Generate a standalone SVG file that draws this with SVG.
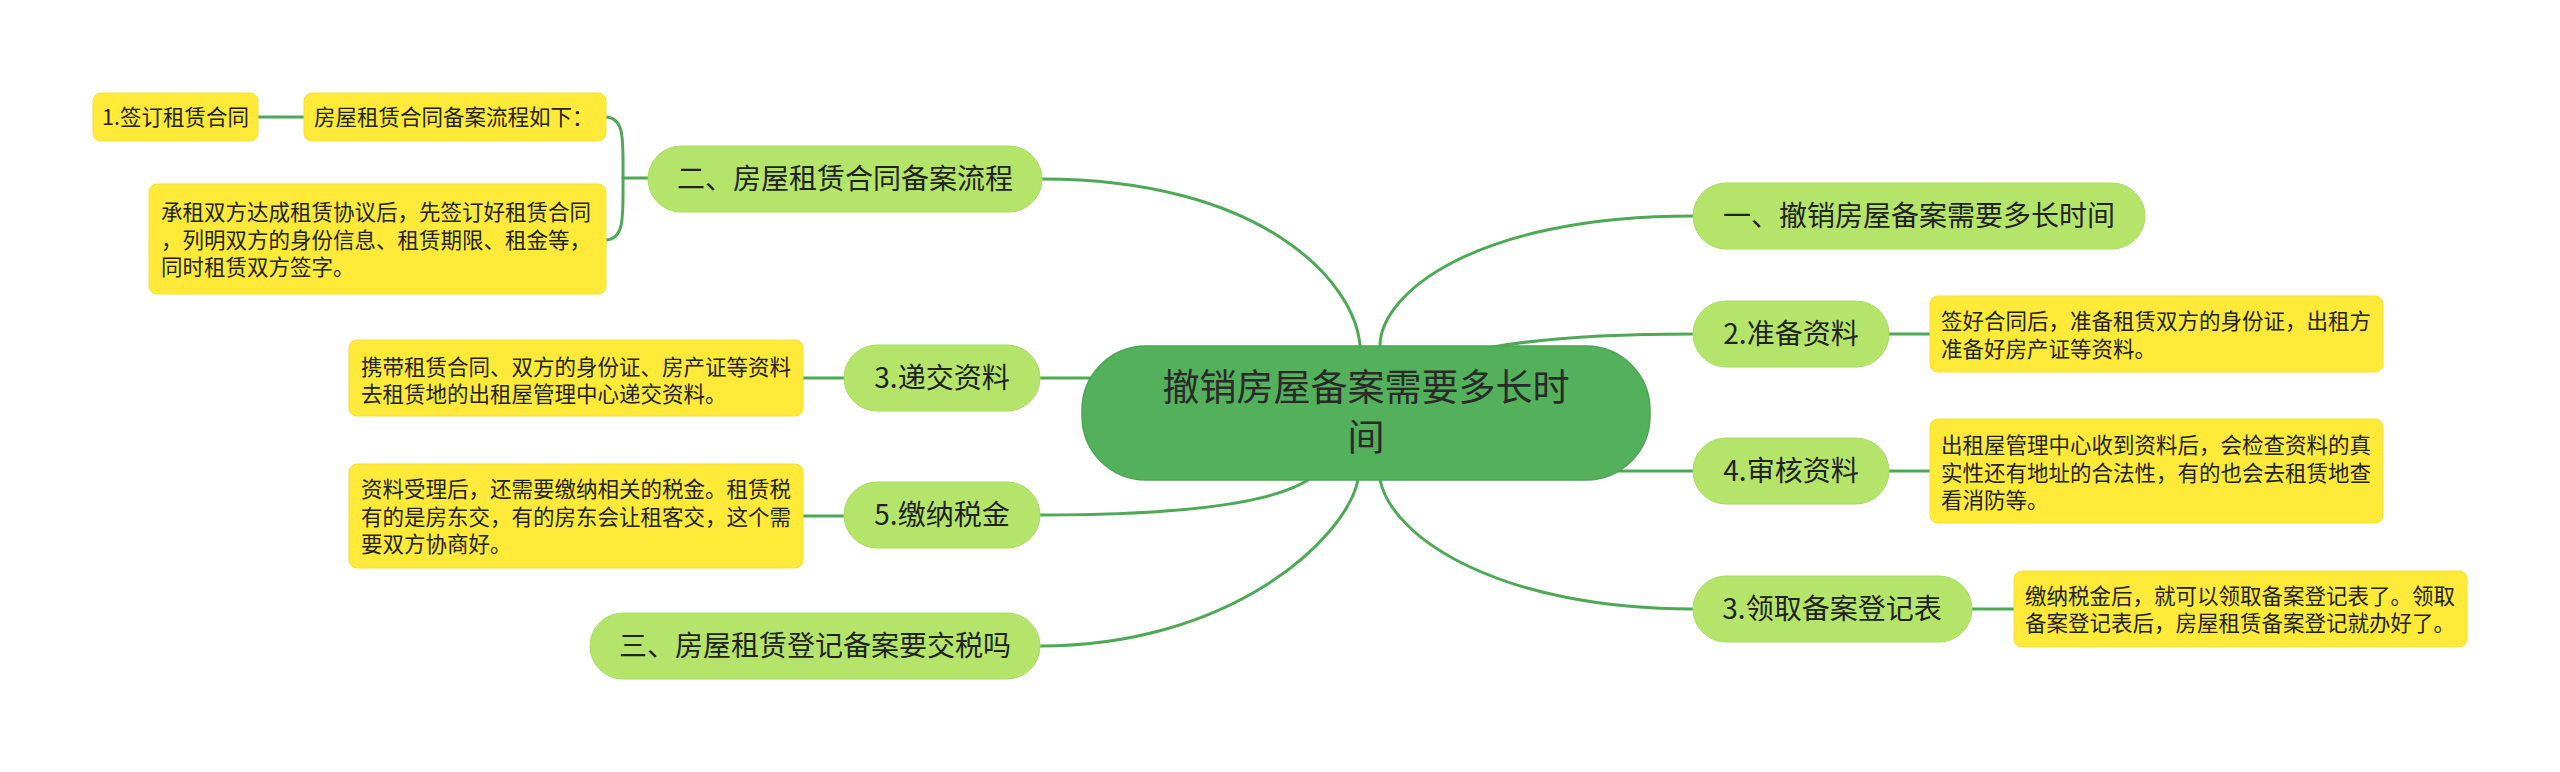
<svg xmlns="http://www.w3.org/2000/svg" width="2560" height="772" viewBox="0 0 2560 772">
<style>
.bg{fill:#ffffff}
.ln{fill:none;stroke:#4ea957;stroke-width:3;stroke-linecap:round}
.root{fill:#53b05b;stroke:#4ca454;stroke-width:1.5}
.mid{fill:#b4e56a;stroke:#a9dc5f;stroke-width:1}
.note{fill:#ffea3a;stroke:#f7e035;stroke-width:1}
text{font-family:"Noto Sans CJK SC","Noto Sans",sans-serif;fill:#222222}
.tr{font-size:37px;fill:#2a2a2a}
.tm{font-size:28px}
.tn{font-size:21.5px}
.c{text-anchor:middle}
</style>
<rect class="bg" x="0" y="0" width="2560" height="772"/>
<g id="connectors">
<path class="ln" d="M1360,346 C1355,280 1260,179 1042,179"/>
<path class="ln" d="M1380,346 C1380,294 1474,216 1693,216"/>
<path class="ln" d="M1487,348 C1530,340 1600,334 1693,334"/>
<path class="ln" d="M1110,378 L1040,378"/>
<path class="ln" d="M1610,471 L1693,471"/>
<path class="ln" d="M1311,478 C1280,500 1200,515 1040,515"/>
<path class="ln" d="M1358,480 C1345,540 1230,646 1040,646"/>
<path class="ln" d="M1380,480 C1393,540 1503,609 1693,609"/>
<path class="ln" d="M605,117 C625,117 623,140 623,178 C623,216 625,240 605,240"/>
<path class="ln" d="M623,178 L648,178"/>
<path class="ln" d="M258,117 L304,117"/>
<path class="ln" d="M803,378 L844,378"/>
<path class="ln" d="M803,516 L844,516"/>
<path class="ln" d="M1889,334 L1930,334"/>
<path class="ln" d="M1889,471 L1930,471"/>
<path class="ln" d="M1972,609 L2014,609"/>
</g>
<g id="root">
<rect class="root" x="1082" y="346" width="568" height="134" rx="64"/>
<text class="tr c" x="1366" y="401">撤销房屋备案需要多长时</text>
<text class="tr c" x="1366" y="451">间</text>
</g>
<g id="n-er">
<rect class="mid" x="648" y="146" width="394" height="66" rx="33"/>
<text class="tm c" x="845" y="189">二、房屋租赁合同备案流程</text>
</g>
<g id="n-dijiao">
<rect class="mid" x="844" y="345" width="196" height="66" rx="33"/>
<text class="tm c" x="942" y="388">3.递交资料</text>
</g>
<g id="n-jiaona">
<rect class="mid" x="844" y="482" width="196" height="66" rx="33"/>
<text class="tm c" x="942" y="525">5.缴纳税金</text>
</g>
<g id="n-san">
<rect class="mid" x="590" y="613" width="450" height="66" rx="33"/>
<text class="tm c" x="815" y="656">三、房屋租赁登记备案要交税吗</text>
</g>
<g id="n-yi">
<rect class="mid" x="1693" y="183" width="452" height="66" rx="33"/>
<text class="tm c" x="1919" y="226">一、撤销房屋备案需要多长时间</text>
</g>
<g id="n-zhunbei">
<rect class="mid" x="1693" y="301" width="196" height="66" rx="33"/>
<text class="tm c" x="1791" y="344">2.准备资料</text>
</g>
<g id="n-shenhe">
<rect class="mid" x="1693" y="438" width="196" height="66" rx="33"/>
<text class="tm c" x="1791" y="481">4.审核资料</text>
</g>
<g id="n-lingqu">
<rect class="mid" x="1693" y="576" width="279" height="66" rx="33"/>
<text class="tm c" x="1832" y="619">3.领取备案登记表</text>
</g>
<g id="note-a">
<rect class="note" x="93" y="93" width="165" height="48" rx="8"/>
<text class="tn c" x="175.5" y="124.5">1.签订租赁合同</text>
</g>
<g id="note-b">
<rect class="note" x="304" y="93" width="302" height="48" rx="8"/>
<text class="tn" x="314" y="124.5">房屋租赁合同备案流程如下：</text>
</g>
<g id="note-c">
<rect class="note" x="149" y="184" width="457" height="110" rx="8"/>
<text class="tn" x="161" y="220">承租双方达成租赁协议后，先签订好租赁合同</text>
<text class="tn" x="161" y="247.5">，列明双方的身份信息、租赁期限、租金等，</text>
<text class="tn" x="161" y="275">同时租赁双方签字。</text>
</g>
<g id="note-d">
<rect class="note" x="349" y="340" width="454" height="76" rx="8"/>
<text class="tn" x="361" y="374.5">携带租赁合同、双方的身份证、房产证等资料</text>
<text class="tn" x="361" y="402">去租赁地的出租屋管理中心递交资料。</text>
</g>
<g id="note-e">
<rect class="note" x="349" y="464" width="454" height="104" rx="8"/>
<text class="tn" x="361" y="497">资料受理后，还需要缴纳相关的税金。租赁税</text>
<text class="tn" x="361" y="524.5">有的是房东交，有的房东会让租客交，这个需</text>
<text class="tn" x="361" y="552">要双方协商好。</text>
</g>
<g id="note-f">
<rect class="note" x="1930" y="296" width="453" height="76" rx="8"/>
<text class="tn" x="1941" y="329">签好合同后，准备租赁双方的身份证，出租方</text>
<text class="tn" x="1941" y="356.5">准备好房产证等资料。</text>
</g>
<g id="note-g">
<rect class="note" x="1930" y="419" width="453" height="104" rx="8"/>
<text class="tn" x="1941" y="453">出租屋管理中心收到资料后，会检查资料的真</text>
<text class="tn" x="1941" y="480.5">实性还有地址的合法性，有的也会去租赁地查</text>
<text class="tn" x="1941" y="508">看消防等。</text>
</g>
<g id="note-h">
<rect class="note" x="2014" y="571" width="453" height="76" rx="8"/>
<text class="tn" x="2025" y="603.5">缴纳税金后，就可以领取备案登记表了。领取</text>
<text class="tn" x="2025" y="631">备案登记表后，房屋租赁备案登记就办好了。</text>
</g>
</svg>
